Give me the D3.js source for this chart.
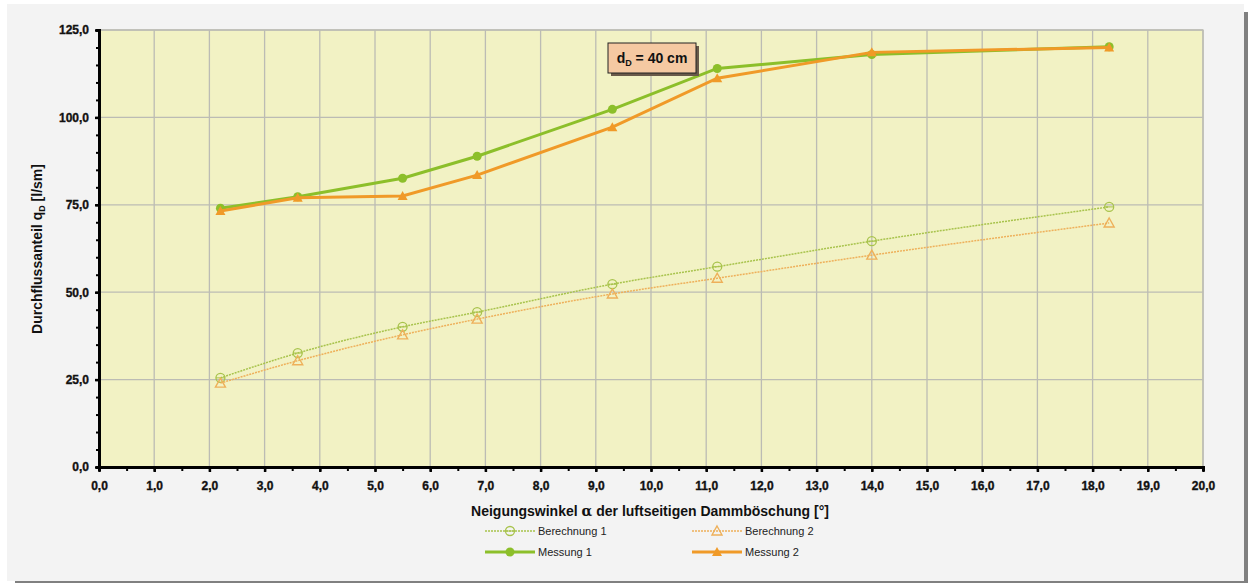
<!DOCTYPE html>
<html><head><meta charset="utf-8">
<script src="https://cdn.jsdelivr.net/npm/d3@7"></script>
<style>
body{margin:0;background:#fff;}
svg{display:block;font-family:"Liberation Sans",Arial,sans-serif;}
</style></head>
<body><svg id="c" width="1248" height="583"></svg>
<script>
const angles = [2.2, 3.6, 5.5, 6.85, 9.3, 11.2, 14.0, 18.3];
const messung1 = [74.0, 77.3, 82.6, 88.9, 102.3, 114.0, 118.0, 120.2];
const messung2 = [73.2, 77.0, 77.5, 83.5, 97.2, 111.2, 118.6, 120.0];
const berechnung1 = [25.5, 32.6, 40.1, 44.3, 52.3, 57.3, 64.6, 74.4];
const berechnung2 = [24.0, 30.4, 37.8, 42.3, 49.5, 54.0, 60.6, 69.8];
const xTicks = d3.range(0, 20.001, 1);
const yTicks = [0, 25, 50, 75, 100, 125];

const svg = d3.select("#c");
const fmt = d => d.toFixed(1).replace(".", ",");

// outer panel with shadow
svg.append("rect").attr("x",15).attr("y",12).attr("width",1233).attr("height",571).attr("fill","#808080");
svg.append("rect").attr("x",7).attr("y",4).attr("width",1237).attr("height",577).attr("fill","#f3f3f3");

const L=99, R=1203, T=30, B=467;
const x = d3.scaleLinear().domain([0,20]).range([L,R]);
const y = d3.scaleLinear().domain([0,125]).range([B,T]);

svg.append("rect").attr("x",L).attr("y",T).attr("width",R-L).attr("height",B-T)
  .attr("fill","#f2f2c4").attr("stroke","#b8b8b0").attr("stroke-width",1.2);

// grid
svg.append("g").selectAll("line").data(xTicks.slice(1)).join("line")
  .attr("x1",d=>x(d)).attr("x2",d=>x(d)).attr("y1",T).attr("y2",B)
  .attr("stroke","#bcbcb4").attr("stroke-width",1.3);
svg.append("g").selectAll("line").data(yTicks.slice(1)).join("line")
  .attr("x1",L).attr("x2",R).attr("y1",d=>y(d)).attr("y2",d=>y(d))
  .attr("stroke","#bcbcb4").attr("stroke-width",1.3);

// axes
const xAxis = svg.append("g").attr("transform",`translate(0,${B})`)
  .call(d3.axisBottom(x).tickValues(d3.range(0,20.001,0.5)).tickSize(4).tickFormat(""));
xAxis.select(".domain").attr("stroke","#000").attr("stroke-width",3);
xAxis.selectAll(".tick line").attr("stroke","#000").attr("stroke-width",2);
const xAxisMajor = svg.append("g").attr("transform",`translate(0,${B})`)
  .call(d3.axisBottom(x).tickValues(xTicks).tickSize(5).tickPadding(9).tickFormat(fmt));
xAxisMajor.select(".domain").remove();
xAxisMajor.selectAll(".tick line").attr("stroke","#000").attr("stroke-width",2.5);
xAxisMajor.selectAll("text").attr("font-size",12).attr("font-weight","bold").attr("fill","#111")
  .attr("stroke","#111").attr("stroke-width",0.35);

const yAxis = svg.append("g").attr("transform",`translate(${L},0)`)
  .call(d3.axisLeft(y).tickValues(d3.range(0,125.001,5)).tickSize(3).tickFormat(""));
yAxis.select(".domain").attr("stroke","#000").attr("stroke-width",3);
yAxis.selectAll(".tick line").attr("stroke","#000").attr("stroke-width",2);
const yAxisMajor = svg.append("g").attr("transform",`translate(${L},0)`)
  .call(d3.axisLeft(y).tickValues(yTicks).tickSize(4).tickPadding(6).tickFormat(fmt));
yAxisMajor.select(".domain").remove();
yAxisMajor.selectAll(".tick line").attr("stroke","#000").attr("stroke-width",2.5);
yAxisMajor.selectAll("text").attr("font-size",12).attr("font-weight","bold").attr("fill","#111")
  .attr("stroke","#111").attr("stroke-width",0.35);

// titles
const yt = svg.append("text").attr("transform","translate(42,249) rotate(-90)")
  .attr("text-anchor","middle").attr("font-size",14).attr("font-weight","bold").attr("fill","#111");
yt.append("tspan").text("Durchflussanteil q");
yt.append("tspan").text("D").attr("font-size",9).attr("dy",3);
yt.append("tspan").text(" [l/sm]").attr("dy",-3);

const xt = svg.append("text").attr("x",650).attr("y",516).attr("text-anchor","middle")
  .attr("font-size",14).attr("font-weight","bold").attr("fill","#111");
xt.append("tspan").text("Neigungswinkel ");
xt.append("tspan").text("α").attr("font-family","DejaVu Serif").attr("font-size",14);
xt.append("tspan").text(" der luftseitigen Dammböschung [°]");

// series
const series = [
  {name:"Berechnung 1", values:berechnung1, color:"#a8c34c", dash:"2,1", width:1.5, marker:"circleOpen", curve:d3.curveMonotoneX},
  {name:"Berechnung 2", values:berechnung2, color:"#eeb05a", dash:"2,1", width:1.5, marker:"triOpen", curve:d3.curveMonotoneX},
  {name:"Messung 1", values:messung1, color:"#8cbf2a", dash:null, width:3, marker:"circle", curve:d3.curveLinear},
  {name:"Messung 2", values:messung2, color:"#f09a28", dash:null, width:3, marker:"tri", curve:d3.curveLinear}
];

function drawMarker(g, type, cx, cy, color){
  if(type==="circleOpen"){
    g.append("circle").attr("cx",cx).attr("cy",cy).attr("r",4.5).attr("fill","none").attr("stroke",color).attr("stroke-width",1.3);
    g.append("line").attr("x1",cx-4.5).attr("x2",cx+4.5).attr("y1",cy).attr("y2",cy).attr("stroke",color).attr("stroke-width",1);
  } else if(type==="triOpen"){
    const s=5;
    g.append("path").attr("d",`M${cx},${cy-s}L${cx+s},${cy+s*0.8}L${cx-s},${cy+s*0.8}Z`).attr("fill","none").attr("stroke",color).attr("stroke-width",1.4);
  } else if(type==="circle"){
    g.append("circle").attr("cx",cx).attr("cy",cy).attr("r",4.5).attr("fill",color);
  } else {
    const s=5;
    g.append("path").attr("d",`M${cx},${cy-s}L${cx+s},${cy+s*0.8}L${cx-s},${cy+s*0.8}Z`).attr("fill",color);
  }
}

series.forEach(s=>{
  const g = svg.append("g");
  const line = d3.line().x((d,i)=>x(angles[i])).y(d=>y(d)).curve(s.curve);
  g.append("path").attr("d",line(s.values)).attr("fill","none").attr("stroke",s.color)
    .attr("stroke-width",s.width).attr("stroke-dasharray",s.dash);
  s.values.forEach((v,i)=>drawMarker(g,s.marker,x(angles[i]),y(v),s.color));
});

// annotation box
const bx=608, by=43, bw=88, bh=30;
svg.append("rect").attr("x",bx+3).attr("y",by+3).attr("width",bw).attr("height",bh).attr("fill","#6a5a4a");
svg.append("rect").attr("x",bx).attr("y",by).attr("width",bw).attr("height",bh).attr("fill","#f5c9a2").attr("stroke","#222").attr("stroke-width",1);
const at = svg.append("text").attr("x",bx+bw/2).attr("y",by+20).attr("text-anchor","middle")
  .attr("font-size",14).attr("font-weight","bold").attr("fill","#111");
at.append("tspan").text("d");
at.append("tspan").text("D").attr("font-size",9).attr("dy",3);
at.append("tspan").text(" = 40 cm").attr("dy",-3);

// legend
const legendPos = [[485,531],[692,531],[485,552],[692,552]];
series.forEach((s,i)=>{
  const [lx,ly]=legendPos[i];
  const g=svg.append("g");
  g.append("line").attr("x1",lx).attr("x2",lx+50).attr("y1",ly).attr("y2",ly).attr("stroke",s.color)
    .attr("stroke-width",s.width).attr("stroke-dasharray",s.dash);
  drawMarker(g,s.marker,lx+25,ly,s.color);
  g.append("text").attr("x",lx+53).attr("y",ly+4).attr("font-size",11).attr("fill","#222").text(s.name);
});
</script></body></html>
